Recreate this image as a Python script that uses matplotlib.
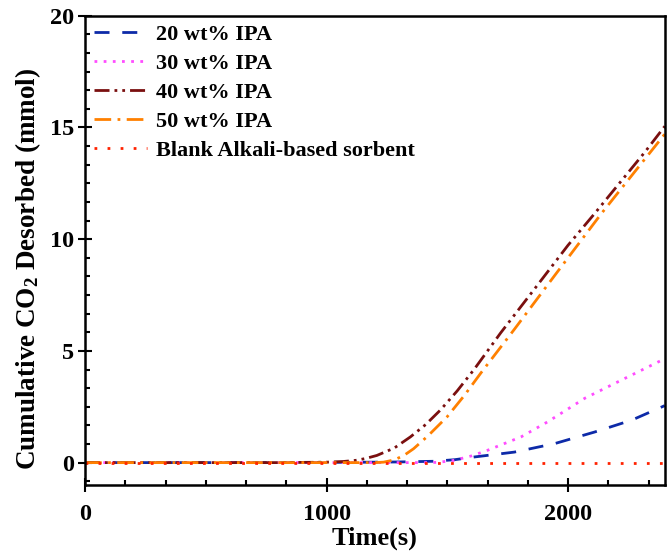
import matplotlib
matplotlib.use("Agg")
import matplotlib.pyplot as plt
from matplotlib.ticker import MultipleLocator, AutoMinorLocator

plt.rcParams['font.family'] = ['Liberation Serif', 'DejaVu Serif']
plt.rcParams['font.weight'] = 'bold'
plt.rcParams['mathtext.fontset'] = 'custom'
plt.rcParams['mathtext.rm'] = 'Liberation Serif:bold'
plt.rcParams['mathtext.it'] = 'Liberation Serif:bold'
plt.rcParams['mathtext.bf'] = 'Liberation Serif:bold'

labels = ["20 wt% IPA", "30 wt% IPA", "40 wt% IPA", "50 wt% IPA", "Blank Alkali-based sorbent"]

t20 = [0, 200, 400, 600, 800, 1000, 1200, 1300, 1444, 1530, 1610, 1777, 1944, 2110, 2263, 2400]
v20 = [0, 0, 0, 0, 0, 0.01, 0.02, 0.03, 0.06, 0.13, 0.25, 0.47, 0.85, 1.37, 1.9, 2.55]

t30 = [0, 200, 400, 600, 800, 1000, 1200, 1400, 1460, 1527, 1600, 1666, 1805, 1916, 2069, 2222, 2400]
v30 = [0, 0, 0, 0, 0, 0, 0, 0, 0.01, 0.1, 0.3, 0.55, 1.15, 1.83, 2.88, 3.7, 4.65]

t40 = [0, 200, 400, 600, 800, 1000, 1069, 1120, 1160, 1208, 1280, 1347, 1410, 1471, 1540, 1610, 1721, 1860, 1999, 2110, 2318, 2400]
v40 = [0, 0, 0, 0, 0, 0.02, 0.05, 0.1, 0.18, 0.32, 0.65, 1.15, 1.7, 2.35, 3.2, 4.16, 5.81, 7.76, 9.72, 11.15, 13.9, 15.05]

t50 = [0, 200, 400, 600, 800, 1000, 1200, 1236, 1280, 1320, 1360, 1420, 1499, 1570, 1638, 1777, 1944, 2138, 2400]
v50 = [0, 0, 0, 0, 0, 0, 0, 0.02, 0.12, 0.32, 0.62, 1.2, 2.05, 3.0, 4.0, 5.96, 8.37, 11.15, 14.7]

tblank = [0, 400, 800, 1200, 1600, 2000, 2400]
vblank = [0, 0, 0, 0, 0, 0, 0]

fig = plt.figure(figsize=(6.71, 5.6), dpi=100)
ax = fig.add_axes([0.1267, 0.134, 0.864, 0.838])

lw = 2.0
ax.plot(t20, v20, color='#0d2aa8', lw=lw, linestyle=(0, (5.4, 4.6)), label=labels[0])
ax.plot(t30, v30, color='#ff4dff', lw=lw, linestyle=(0, (1, 2.3)), label=labels[1])
ax.plot(t40, v40, color='#7a0f0f', lw=lw, linestyle=(0, (5.4, 1.8, 1, 1.8, 1, 1.8)), label=labels[2])
ax.plot(t50, v50, color='#ff8000', lw=lw, linestyle=(0, (6, 2.3, 1, 2.3)), label=labels[3])
ax.plot(tblank, vblank, color='#ff2200', lw=lw, linestyle=(0, (1, 3.7)), label=labels[4])

ax.set_xlim(0, 2400)
ax.set_ylim(-1, 20)
ax.xaxis.set_major_locator(MultipleLocator(1000))
ax.xaxis.set_minor_locator(AutoMinorLocator(6))
ax.yaxis.set_major_locator(MultipleLocator(5))
ax.yaxis.set_minor_locator(AutoMinorLocator(6))
ax.tick_params(which='both', top=False, right=False, labelsize=17.5, width=1.5)
ax.tick_params(which='major', direction='inout', length=10)
ax.tick_params(which='minor', direction='in', length=3.5)
ax.tick_params(axis='x', which='major', pad=9)
ax.tick_params(axis='y', which='major', pad=3)
for s in ax.spines.values():
    s.set_linewidth(1.8)

ax.set_xlabel('Time(s)', fontsize=19, fontweight='bold', labelpad=1)
ax.set_ylabel(r'Cumulative CO$_2$ Desorbed (mmol)', fontsize=19.5, fontweight='bold')
ax.yaxis.set_label_coords(-0.073, 0.46)

leg = ax.legend(loc='upper left', frameon=False, fontsize=16, handlelength=2.4,
                handletextpad=0.4, labelspacing=0.38, borderaxespad=0.1, borderpad=0.3)

fig.savefig('out.png', dpi=100)
